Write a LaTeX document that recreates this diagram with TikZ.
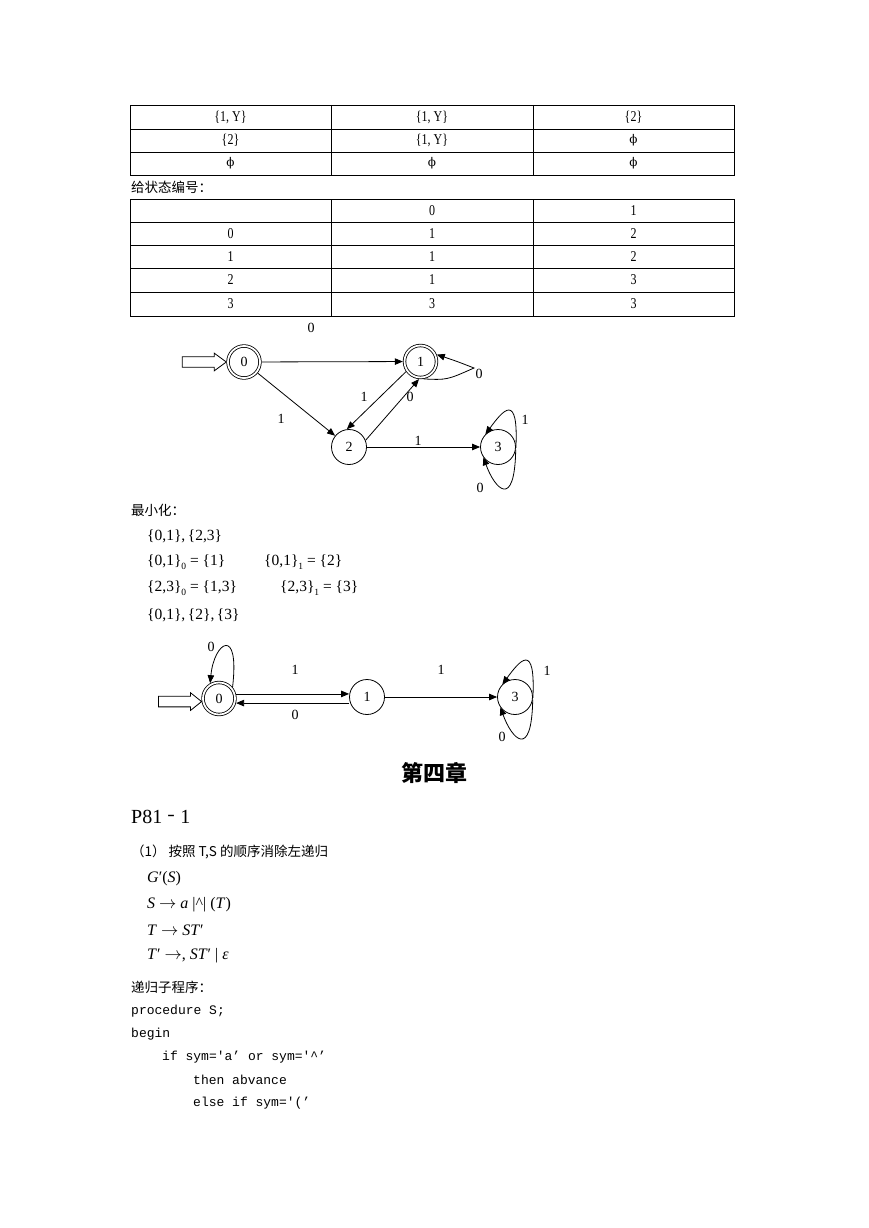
\documentclass[tikz,border=0pt]{standalone}
\usepackage{graphicx}
\usepackage{fontspec}
\setmainfont{Liberation Serif}
\newfontfamily\cjk{Noto Sans CJK SC}
\newfontfamily\simfont{Liberation Serif}[FakeStretch=0.8]
\newfontfamily\mono{Liberation Mono}
\newfontfamily\phifont{DejaVu Serif}
\usetikzlibrary{arrows.meta,calc}
\newcommand{\lowsub}[1]{\raisebox{-4pt}{\fontsize{9.5}{9.5}\selectfont #1}}
\tikzset{
  tbl/.style={line width=0.8pt},
  cell/.style={font=\simfont\fontsize{15}{15}\selectfont, inner sep=0pt},
  phic/.style={font=\phifont\fontsize{12}{12}\selectfont, inner sep=0pt},
  st/.style={circle, draw, line width=0.8pt, minimum size=35pt, inner sep=0pt, font=\fontsize{14}{14}\selectfont},
  acc/.style={st, minimum size=32pt, double, double distance=1.8pt, outer sep=1.7pt},
  edge/.style={line width=0.8pt, -{Triangle[length=8pt,width=6.5pt]}},
  lbl/.style={inner sep=0pt, font=\fontsize{14}{14}\selectfont},
  startarr/.style={draw, line width=0.8pt, fill=white},
  cn/.style={inner sep=0pt, anchor=west, font=\cjk\fontsize{13.5}{13.5}\selectfont},
  mth/.style={inner sep=0pt, anchor=west, font=\fontsize{15.5}{15.5}\selectfont},
  gr/.style={inner sep=0pt, anchor=west, font=\fontsize{16}{16}\selectfont},
  code/.style={inner sep=0pt, anchor=west, font=\mono\fontsize{13}{13}\selectfont},
}
\begin{document}
\begin{tikzpicture}[x=1pt,y=-1pt]
\fill[white] (0,0) rectangle (869,1228);
\path[use as bounding box] (0,0) rectangle (869,1228);

% ---------- table 1 ----------
\draw[tbl] (130,105) rectangle (734,175);
\draw[tbl] (130,129) -- (734,129) (130,152) -- (734,152)
           (331,105) -- (331,175) (533,105) -- (533,175);
\node[cell] (t1a1) at (230.5,117) {\{1, Y\}};
\node[cell] (t1a2) at (432,117) {\{1, Y\}};
\node[cell] (t1a3) at (633.5,117) {\{2\}};
\node[cell] (t1b1) at (230.5,140.5) {\{2\}};
\node[cell] (t1b2) at (432,140.5) {\{1, Y\}};
\node[phic] (t1b3) at (633.5,140.5) {ϕ};
\node[phic] (t1c1) at (230.5,163.5) {ϕ};
\node[phic] (t1c2) at (432,163.5) {ϕ};
\node[phic] (t1c3) at (633.5,163.5) {ϕ};

\node[cn] (lab1) at (131,187) {给状态编号：};

% ---------- table 2 ----------
\draw[tbl] (130,199) rectangle (734,316);
\draw[tbl] (130,222) -- (734,222) (130,245) -- (734,245) (130,268) -- (734,268) (130,292) -- (734,292)
           (331,199) -- (331,316) (533,199) -- (533,316);
\node[cell] (t2a2) at (432,210.5) {0};
\node[cell] (t2a3) at (633.5,210.5) {1};
\node[cell] (t2b1) at (230.5,233.5) {0};
\node[cell] (t2b2) at (432,233.5) {1};
\node[cell] (t2b3) at (633.5,233.5) {2};
\node[cell] (t2c1) at (230.5,256.5) {1};
\node[cell] (t2c2) at (432,256.5) {1};
\node[cell] (t2c3) at (633.5,256.5) {2};
\node[cell] (t2d1) at (230.5,280) {2};
\node[cell] (t2d2) at (432,280) {1};
\node[cell] (t2d3) at (633.5,280) {3};
\node[cell] (t2e1) at (230.5,304) {3};
\node[cell] (t2e2) at (432,304) {3};
\node[cell] (t2e3) at (633.5,304) {3};

% ---------- automaton 1 ----------
\node[acc] (a0) at (244,362) {0};
\node[acc] (a1) at (420.5,361.5) {1};
\node[st] (a2) at (349,447) {2};
\node[st] (a3) at (498,447) {3};

\draw[startarr] ($(a0.west)+(-44,-5.3)$) -- ($(a0.west)+(-12,-5.3)$) -- ($(a0.west)+(-12,-8.8)$)
   -- (a0.west) -- ($(a0.west)+(-12,8.8)$) -- ($(a0.west)+(-12,5.3)$) -- ($(a0.west)+(-44,5.3)$) -- cycle;

\draw[edge] (a0) -- (a1);
\draw[edge] (a0) -- (a2);
\draw[edge] (a1.215) -- (a2.97);
\draw[edge] (a2.22) -- (a1.265);
\draw[edge] (a2) -- (a3);
\draw[edge] (a1.-80) .. controls (447,380) .. (474,368) .. controls (456,361) .. (a1.23);
\draw[edge] (a3.-3) .. controls ($(a3)+(20.7,-56.3)$) and ($(a3)+(4.7,-36.3)$) .. (a3.135);
\draw[edge] (a3.-8) .. controls ($(a3)+(16.7,63.7)$) and ($(a3)+(-3.3,41.7)$) .. (a3.215);

\node[lbl] (l01) at (311,328) {0};
\node[lbl] (l11) at (479,374) {0};
\node[lbl] (l02) at (281,419) {1};
\node[lbl] (l12) at (364,397) {1};
\node[lbl] (l21) at (410,397) {0};
\node[lbl] (l23) at (418,441) {1};
\node[lbl] (l33a) at (525,420) {1};
\node[lbl] (l33b) at (480,488) {0};

% ---------- minimisation ----------
\node[cn] (lab2) at (131,510) {最小化：};
\node[mth] (m1l) at (147,536) {\{0,1\},\,\{2,3\}};
\node[mth] (m2l) at (147,562.5) {\{0,1\}\lowsub{0} = \{1\}};
\node[mth] (m2r) at (264,562.5) {\{0,1\}\lowsub{1} = \{2\}};
\node[mth] (m3l) at (147,588.5) {\{2,3\}\lowsub{0} = \{1,3\}};
\node[mth] (m3r) at (280,588.5) {\{2,3\}\lowsub{1} = \{3\}};
\node[mth] (m4l) at (147,615) {\{0,1\},\,\{2\},\,\{3\}};

% ---------- automaton 2 ----------
\node[acc] (b0) at (219,698.5) {0};
\node[st] (b1) at (367,697) {1};
\node[st] (b3) at (515,697) {3};

\draw[startarr] ($(b0.190)+(-43,-5.3)$) -- ($(b0.190)+(-11,-5.3)$) -- ($(b0.190)+(-11,-8.8)$)
   -- (b0.190) -- ($(b0.190)+(-11,8.8)$) -- ($(b0.190)+(-11,5.3)$) -- ($(b0.190)+(-43,5.3)$) -- cycle;

\draw[edge] (b0.15) -- (b0.15 -| b1.west);
\draw[edge] (b1.west |- b0.-15) -- (b0.-15);
\draw[edge] (b1) -- (b3);
\draw[edge] (b0.40) .. controls ($(b0)+(21,-73.5)$) and ($(b0)+(-5,-56.5)$) .. (b0.120);
\draw[edge] (b3.-3) .. controls ($(b3)+(20.7,-56.3)$) and ($(b3)+(4.7,-36.3)$) .. (b3.135);
\draw[edge] (b3.-8) .. controls ($(b3)+(16.7,63.7)$) and ($(b3)+(-3.3,41.7)$) .. (b3.215);

\node[lbl] (k00) at (211,647) {0};
\node[lbl] (k01) at (295,670) {1};
\node[lbl] (k10) at (295,715) {0};
\node[lbl] (k13) at (441,670) {1};
\node[lbl] (k33a) at (547,671) {1};
\node[lbl] (k33b) at (502,737) {0};

% ---------- chapter 4 ----------
\node[inner sep=0pt, font=\cjk\bfseries\fontsize{22}{22}\selectfont] (ch4) at (434,773) {第四章};
\node[inner sep=0pt, anchor=west, font=\fontsize{20}{20}\selectfont] (p81) at (131,817)
  {P81{\cjk\makebox[18pt]{\scalebox{0.4}[1]{－}}}1};
\node[cn] (q1) at (131,852) {（1） 按照 T,S 的顺序消除左递归};

\node[gr] (g1) at (147,879) {\textit{G}′(\textit{S})};
\node[gr] (g2) at (147,904.5) {\textit{S} $\rightarrow$ \textit{a} |\textasciicircum| (\textit{T})};
\node[gr] (g3) at (147,930) {\textit{T} $\rightarrow$ \textit{ST}′};
\node[gr] (g4) at (147,955.5) {\textit{T}′ $\rightarrow$, \textit{ST}′ | \textit{ε}};

\node[cn] (lab3) at (131,987) {递归子程序：};
\node[code] (c1) at (131,1011) {procedure S;};
\node[code] (c2) at (131,1034) {begin};
\node[code] (c3) at (162,1057) {if sym='a’ or sym='\textasciicircum’};
\node[code] (c4) at (193,1080) {then abvance};
\node[code] (c5) at (193,1103) {else if sym='(’};
\end{tikzpicture}
\end{document}
